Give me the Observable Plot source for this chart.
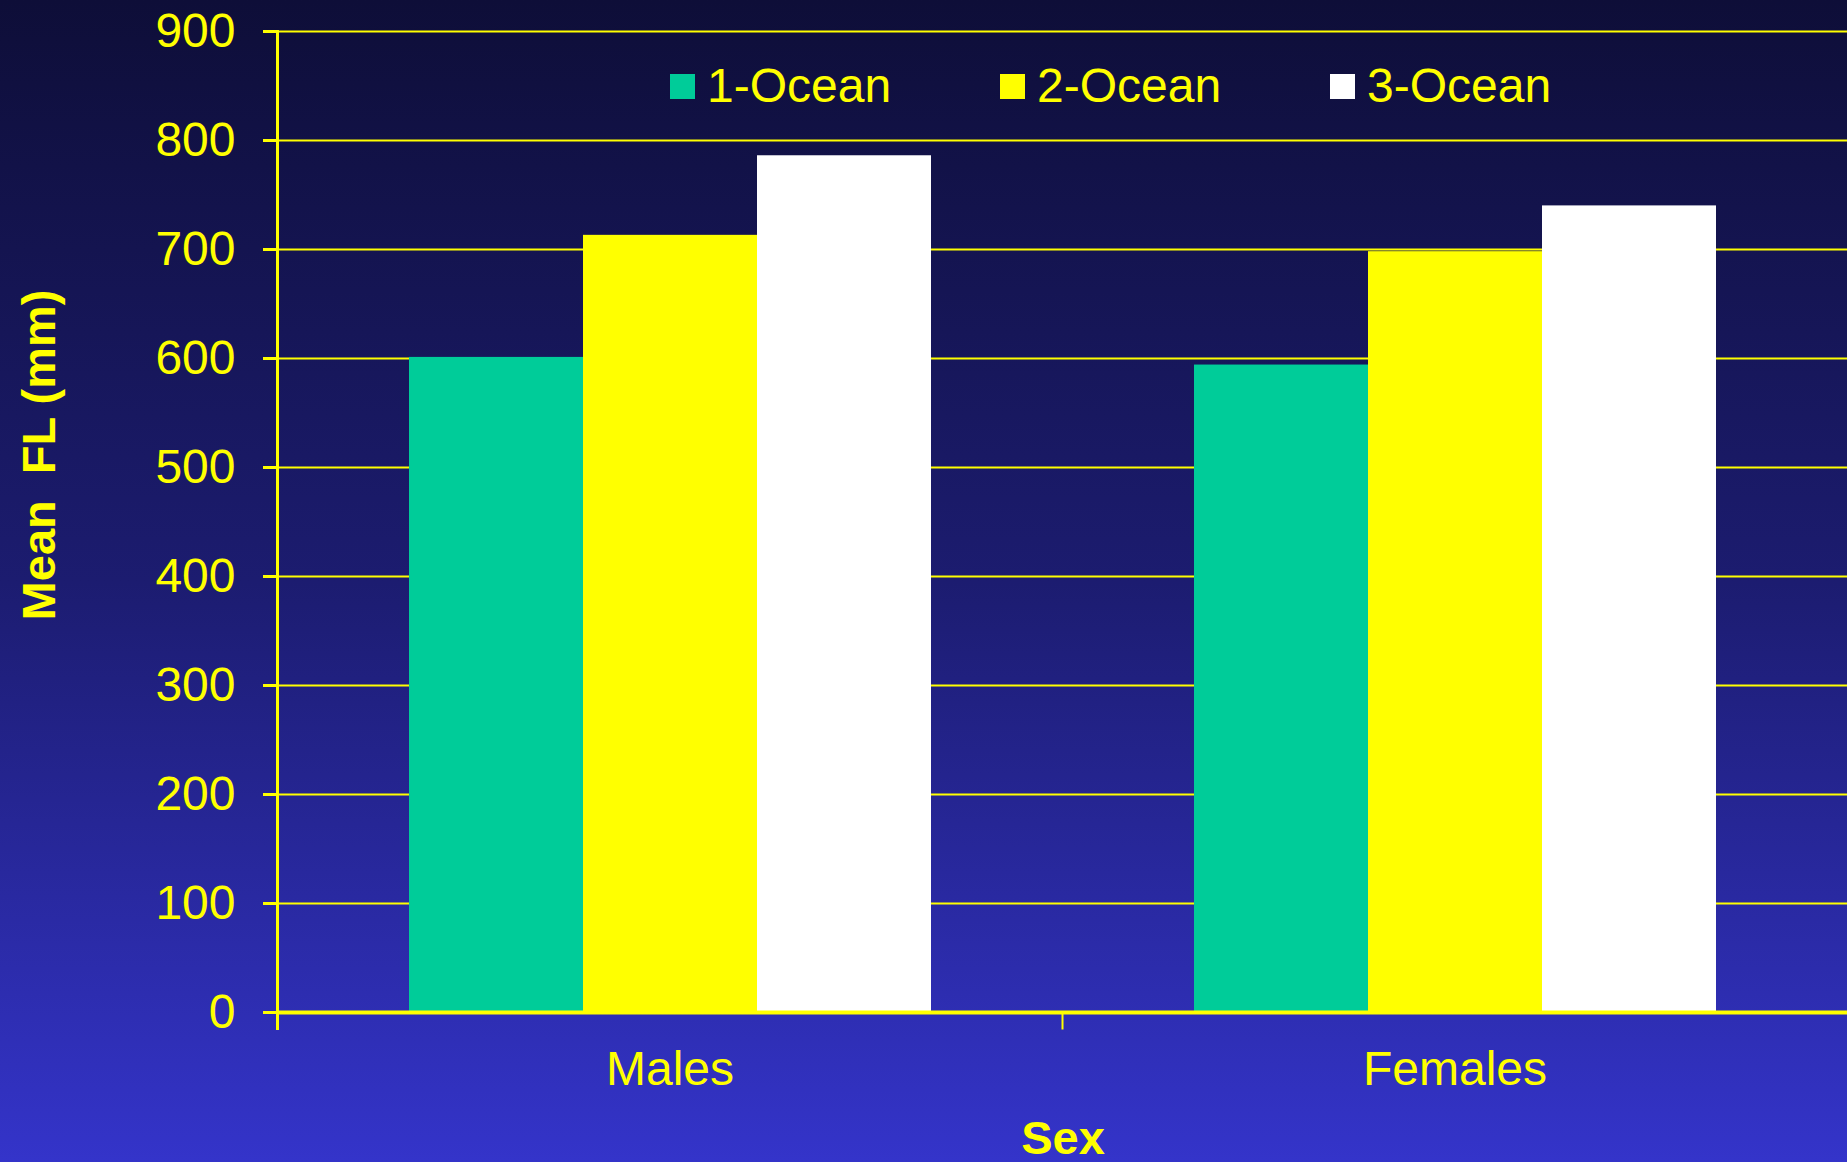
<!DOCTYPE html>
<html>
<head>
<meta charset="utf-8">
<script src="https://cdn.jsdelivr.net/npm/d3@7"></script>
<script src="https://cdn.jsdelivr.net/npm/@observablehq/plot@0.6"></script>
<style>
  html, body { margin: 0; padding: 0; }
  body {
    width: 1847px; height: 1162px; overflow: hidden; position: relative;
    background: linear-gradient(to bottom, #0e0e38 0%, #1c1c70 50%, #3434ca 100%);
    font-family: "Liberation Sans", Arial, sans-serif;
  }
  #chart { position: absolute; left: 0; top: 0; }
  .legend { position: absolute; left: 670px; top: 61px; height: 50px; display: flex; align-items: center; }
  .item { display: flex; align-items: center; margin-right: 113px; }
  .sw { width: 25px; height: 25px; margin-right: 12px; }
  .lab { color: #ffff00; font-size: 48px; line-height: 50px; width: 180px; white-space: nowrap; }
  .ytitle { position: absolute; left: 38px; top: 455px; transform: translate(-50%, -50%) rotate(-90deg);
    color: #ffff00; font-size: 47px; font-weight: bold; white-space: pre; }
  .xtitle { position: absolute; left: 1063px; top: 1137px; transform: translate(-50%, -50%);
    color: #ffff00; font-size: 47px; font-weight: bold; white-space: pre; }
</style>
</head>
<body>
<div id="chart"></div>
<div class="legend" id="legend"></div>
<div class="ytitle">Mean  FL (mm)</div>
<div class="xtitle">Sex</div>
<script>
const sexes = ["Males", "Females"];
const oceans = ["1-Ocean", "2-Ocean", "3-Ocean"];
const oceanColors = ["#00cc99", "#ffff00", "#ffffff"];
const males = [601, 713, 786];
const females = [594, 698, 740];
const yTicks = [0, 100, 200, 300, 400, 500, 600, 700, 800, 900];

const rows = [];
oceans.forEach((o, i) => {
  rows.push({sex: "Males", ocean: o, value: males[i]});
  rows.push({sex: "Females", ocean: o, value: females[i]});
});

const yellow = "#ffff00";

const chart = Plot.plot({
  width: 1847,
  height: 1162,
  marginLeft: 277,
  marginRight: 0,
  marginTop: 31,
  marginBottom: 150,
  style: {background: "transparent", fontFamily: "Liberation Sans, Arial, sans-serif", color: yellow},
  fx: {domain: sexes, paddingInner: 0, paddingOuter: 0, axis: null},
  x: {domain: oceans, paddingInner: 0, paddingOuter: 0.75, axis: null},
  y: {domain: [0, 900], axis: null},
  color: {domain: oceans, range: oceanColors},
  marks: [
    Plot.gridY(yTicks.filter(d => d > 0), {stroke: yellow, strokeOpacity: 1, strokeWidth: 2}),
    Plot.barY(rows, {fx: "sex", x: "ocean", y: "value", fill: "ocean"}),
    Plot.ruleY([0], {stroke: yellow, strokeWidth: 4}),
    Plot.frame({anchor: "left", stroke: yellow, strokeWidth: 2, insetTop: 981, insetBottom: -16}),
    Plot.frame({anchor: "left", facet: "super", stroke: yellow, strokeWidth: 3, insetBottom: -16}),
    Plot.axisY({ticks: yTicks, tickSize: 14, tickPadding: 28, fontSize: 48, stroke: yellow, strokeWidth: 3, fill: yellow, label: null, tickFormat: d => String(d)}),
    Plot.axisFx({anchor: "bottom", tickSize: 0, tickPadding: 38, fontSize: 48, fill: yellow, label: null})
  ]
});
document.getElementById("chart").appendChild(chart);

const legend = document.getElementById("legend");
oceans.forEach((o, i) => {
  const item = document.createElement("div");
  item.className = "item";
  const sw = document.createElement("div");
  sw.className = "sw";
  sw.style.background = oceanColors[i];
  const lab = document.createElement("div");
  lab.className = "lab";
  lab.textContent = o;
  item.appendChild(sw);
  item.appendChild(lab);
  legend.appendChild(item);
});
</script>
</body>
</html>
